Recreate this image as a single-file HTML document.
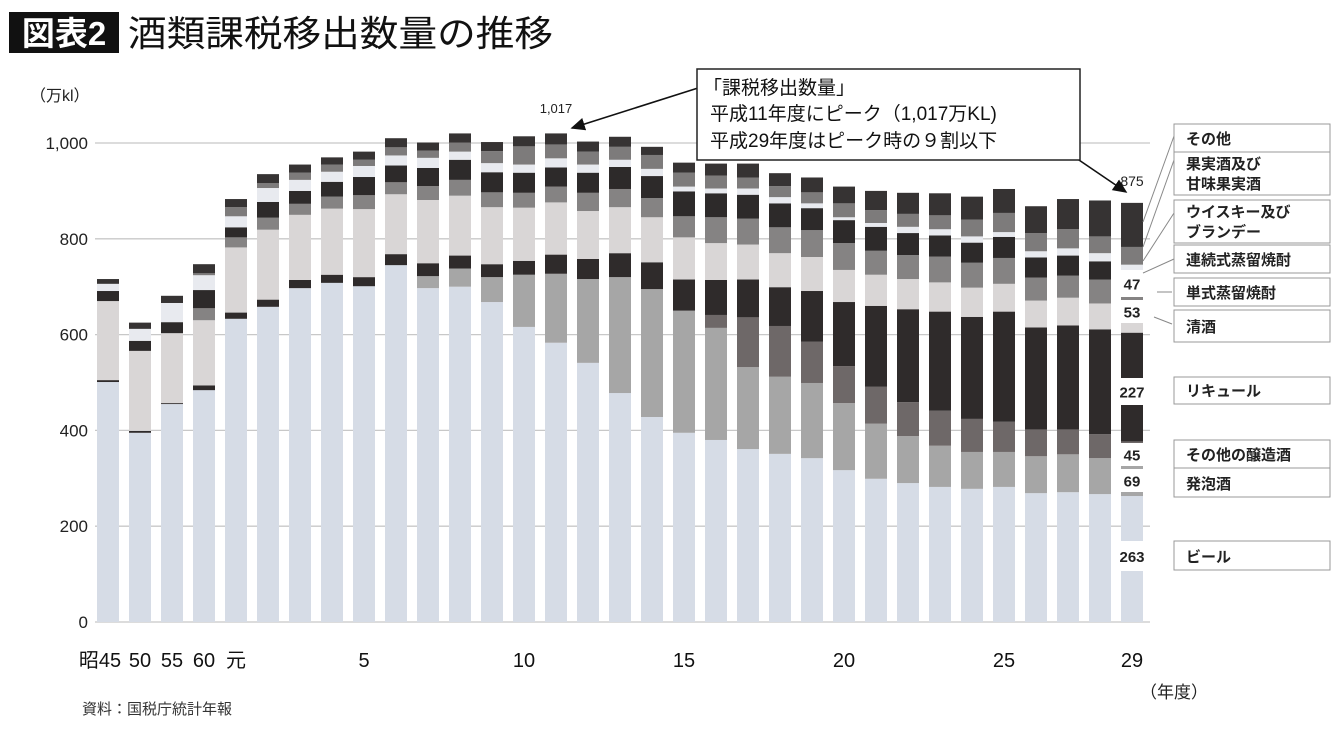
<!DOCTYPE html>
<html lang="ja">
<head>
<meta charset="utf-8">
<style>
  html,body{margin:0;padding:0;background:#fff;}
  body{width:1340px;height:724px;overflow:hidden;position:relative;font-family:"Liberation Sans","Noto Sans CJK JP",sans-serif;}
  svg text{font-family:"Liberation Sans","Noto Sans CJK JP",sans-serif;}
</style>
</head>
<body>
<svg id="chart" width="1340" height="724" viewBox="0 0 1340 724" xmlns="http://www.w3.org/2000/svg">
  <rect x="9" y="12" width="110" height="41" fill="#111"/>
  <text x="64" y="45" font-size="33" font-weight="bold" fill="#fff" text-anchor="middle">図表2</text>
  <text x="128" y="46" font-size="36" fill="#111" textLength="425" lengthAdjust="spacingAndGlyphs">酒類課税移出数量の推移</text>
  <text x="30" y="101" font-size="16" fill="#222">（万kl）</text>
  <g id="grid"></g>
  <g id="bars"></g>
  <g id="overlay"></g>
  <text x="1140" y="698" font-size="17" fill="#222">（年度）</text>
  <text x="82" y="714" font-size="15" fill="#333">資料：国税庁統計年報</text>
</svg>
<script>
const categories = ["S45","S50","S55","S60","H1","H2","H3","H4","H5","H6","H7","H8","H9","H10","H11","H12","H13","H14","H15","H16","H17","H18","H19","H20","H21","H22","H23","H24","H25","H26","H27","H28","H29"];
const xTickLabels = ["昭45","50","55","60","元","","","","5","","","","","10","","","","","15","","","","","20","","","","","25","","","","29"];
const yTicks = [0,200,400,600,800,1000];
const yTickLabels = ["0","200","400","600","800","1,000"];
const beer      = [501,395,455,484,633,658,697,708,701,745,697,700,668,616,583,541,478,428,395,380,361,351,342,317,299,290,282,278,282,269,271,267,263];
const happoshu  = [0,0,0,0,0,0,0,0,0,0,25,38,52,109,144,175,242,267,255,234,171,161,157,140,115,98,86,77,73,77,79,75,69];
const otherBrew = [0,0,0,0,0,0,0,0,0,0,0,0,0,0,0,0,0,0,0,27,104,106,86,77,77,71,73,69,63,56,52,50,45];
const liqueur   = [4,4,2,10,13,15,17,17,19,23,27,27,27,29,40,42,50,56,65,73,79,81,106,134,169,194,207,213,230,213,217,219,227];
const sake      = [165,167,146,136,136,146,136,138,142,125,132,125,119,111,109,100,96,94,88,77,73,71,71,67,65,63,61,61,58,56,58,54,53];
const shochuB   = [0,0,0,25,21,25,23,25,29,25,29,33,31,31,33,38,38,40,44,54,54,54,56,56,50,50,54,52,54,48,46,50,47];
const shochuA   = [21,21,23,38,21,33,27,31,38,35,38,42,42,42,40,42,46,46,52,50,50,50,46,48,50,46,44,42,44,42,42,38,30];
const whisky    = [15,25,40,31,23,29,23,21,23,21,21,17,19,17,19,17,15,15,10,10,13,13,10,6,8,13,13,13,10,13,15,17,12];
const fruitWine = [0,0,0,4,19,10,15,15,13,17,15,19,25,38,29,27,27,29,29,27,23,23,23,29,27,27,29,35,40,38,40,35,37];
const others    = [10,13,15,19,17,19,17,15,17,19,17,19,19,21,23,21,21,17,21,25,29,27,31,35,40,44,46,48,50,56,63,75,92];
const lastLabels = ["47","53","227","45","69","263"];
const peakLabel = "1,017";
const lastTotalLabel = "875";

const series = [
  {name:"beer", v:beer, c:"#d6dce6"},
  {name:"happoshu", v:happoshu, c:"#a6a6a6"},
  {name:"other-brewed", v:otherBrew, c:"#6e6868"},
  {name:"liqueur", v:liqueur, c:"#2f2b2b"},
  {name:"sake", v:sake, c:"#d9d6d6"},
  {name:"shochu-single", v:shochuB, c:"#858383"},
  {name:"shochu-continuous", v:shochuA, c:"#2d2a2a"},
  {name:"whisky", v:whisky, c:"#e8eaef"},
  {name:"fruit-wine", v:fruitWine, c:"#7d7b7b"},
  {name:"others", v:others, c:"#363333"}
];
const NS = "http://www.w3.org/2000/svg";
const y0 = 622, yK = 0.479;
function yScale(v){ return y0 - v*yK; }
function xScale(i){ return 108 + 32*i; }
const barW = 22;
function mk(tag, attrs, parent){ const e=document.createElementNS(NS,tag); for(const k in attrs) e.setAttribute(k,attrs[k]); parent.appendChild(e); return e; }

const grid = document.getElementById("grid");
yTicks.forEach((t,k)=>{
  const l = mk("line",{x1:95,x2:1150,y1:yScale(t),y2:yScale(t),stroke:"#c8c8c8","stroke-width":1.3},grid);
  
  
  const tx = mk("text",{x:88,y:yScale(t)+6,"font-size":17,"text-anchor":"end",fill:"#222"},grid);
  tx.textContent = yTickLabels[k];
  
  
});
xTickLabels.forEach((lab,i)=>{
  if(!lab) return;
  const tx = mk("text",{x:i===0?xScale(i)-8:xScale(i),y:667,"font-size":20,"text-anchor":"middle",fill:"#111"},grid);
  tx.textContent = lab;
  
  
});

const bars = document.getElementById("bars");
categories.forEach((cat,i)=>{
  let cum = 0;
  series.forEach(s=>{
    const v = s.v[i];
    if(v>0){
      const r = mk("rect",{x:xScale(i)-barW/2,y:yScale(cum+v),width:barW,height:v*yK,fill:s.c},bars);
      
      
    }
    cum += v;
  });
});

const ov = document.getElementById("overlay");
// label gaps on last bar
const li = categories.length-1;
const lx = xScale(li);
const gaps = [[270,297],[300,323],[378,405],[443,466],[469,492],[541,571]];
gaps.forEach((g,k)=>{
  const r = mk("rect",{x:lx-13,y:g[0],width:26,height:g[1]-g[0],fill:"#fff"},ov);
  
  
  const t = mk("text",{x:lx,y:(g[0]+g[1])/2+6,"font-size":15,"font-weight":"bold","text-anchor":"middle",fill:"#222"},ov);
  t.textContent = lastLabels[k];
  
  
});
const peak = mk("text",{x:xScale(14),y:yScale(1017)-22,"font-size":13,"text-anchor":"middle",fill:"#222"},ov);
peak.textContent = peakLabel;


const tot = mk("text",{x:lx,y:186,"font-size":14,"text-anchor":"middle",fill:"#222"},ov);
tot.textContent = lastTotalLabel;


</script>
<svg width="1340" height="724" style="position:absolute;left:0;top:0" xmlns="http://www.w3.org/2000/svg">
  <defs><marker id="ah" markerWidth="10" markerHeight="10" refX="8" refY="5" orient="auto"><path d="M0,1 L9,5 L0,9 Z" fill="#111"/></marker></defs>
  <line x1="698" y1="88" x2="572" y2="128" stroke="#111" stroke-width="1.6" marker-end="url(#ah)"/>
  <line x1="1076" y1="158" x2="1126" y2="192" stroke="#111" stroke-width="1.6" marker-end="url(#ah)"/>
  <rect x="697" y="69" width="383" height="91" fill="#fff" stroke="#222" stroke-width="1.5"/>
  <text x="703" y="94" font-size="19" fill="#111">「課税移出数量」</text>
  <text x="710" y="120" font-size="19" fill="#111">平成11年度にピーク（1,017万KL)</text>
  <text x="710" y="147" font-size="19" fill="#111">平成29年度はピーク時の９割以下</text>
  <g stroke="#888" stroke-width="1" fill="none">
    <line x1="1174" y1="136" x2="1143" y2="222"/>
    <line x1="1174" y1="160" x2="1143" y2="247"/>
    <line x1="1174" y1="213" x2="1143" y2="261"/>
    <line x1="1174" y1="259" x2="1143" y2="273"/>
    <line x1="1157" y1="292" x2="1172" y2="292"/>
    <line x1="1154" y1="317" x2="1172" y2="324"/>
  </g>
  <g fill="#fff" stroke="#999" stroke-width="1">
    <rect x="1174" y="124" width="156" height="28"/>
    <rect x="1174" y="152" width="156" height="43"/>
    <rect x="1174" y="200" width="156" height="43"/>
    <rect x="1174" y="245" width="156" height="28"/>
    <rect x="1174" y="278" width="156" height="28"/>
    <rect x="1174" y="310" width="156" height="32"/>
    <rect x="1174" y="377" width="156" height="27"/>
    <rect x="1174" y="440" width="156" height="28"/>
    <rect x="1174" y="468" width="156" height="29"/>
    <rect x="1174" y="541" width="156" height="29"/>
  </g>
  <g font-size="15" font-weight="bold" fill="#222">
    <text x="1186" y="144">その他</text>
    <text x="1186" y="169">果実酒及び</text>
    <text x="1186" y="189">甘味果実酒</text>
    <text x="1186" y="217">ウイスキー及び</text>
    <text x="1186" y="237">ブランデー</text>
    <text x="1186" y="265">連続式蒸留焼酎</text>
    <text x="1186" y="298">単式蒸留焼酎</text>
    <text x="1186" y="332">清酒</text>
    <text x="1186" y="396">リキュール</text>
    <text x="1186" y="460">その他の醸造酒</text>
    <text x="1186" y="489">発泡酒</text>
    <text x="1186" y="562">ビール</text>
  </g>
</svg>
</body>
</html>
